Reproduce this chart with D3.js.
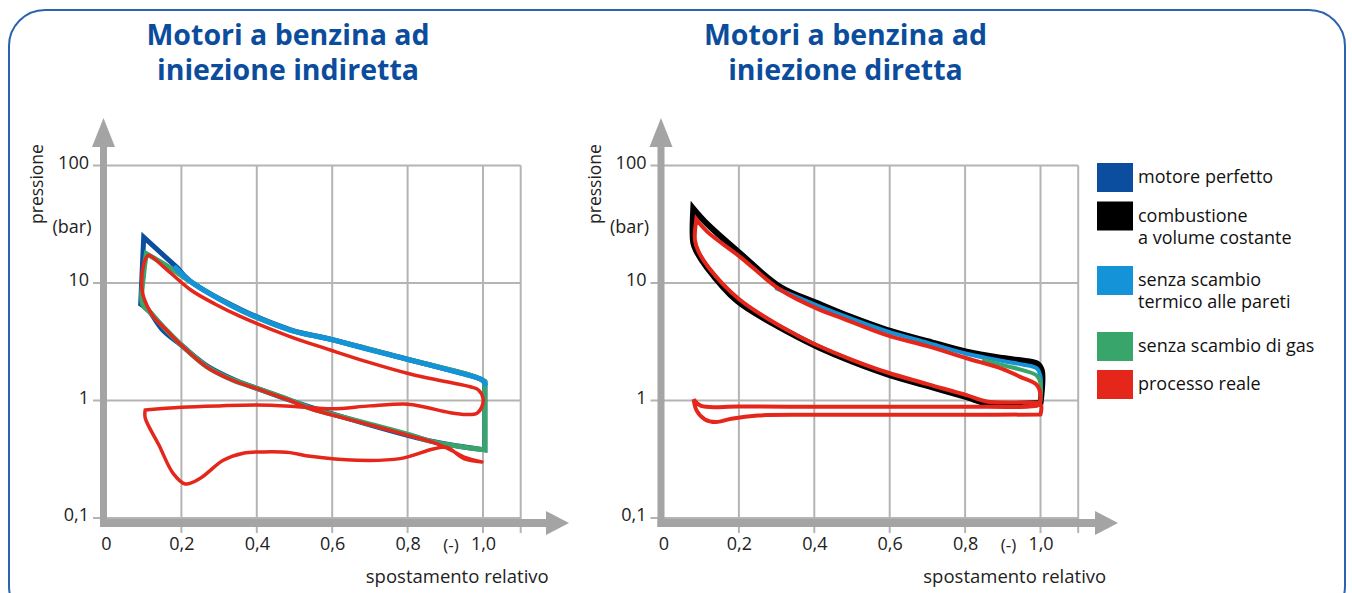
<!DOCTYPE html>
<html>
<head>
<meta charset="utf-8">
<script src="https://cdn.jsdelivr.net/npm/d3@7"></script>
<style>
body { margin: 0; background: #fff; }
svg text { font-family: "Open Sans", sans-serif; }
</style>
</head>
<body>
<div class="chart-area"></div>
<script>
// tick values and labels
var xTicks = [0, 0.2, 0.4, 0.6, 0.8, 1.0];
var xTickLabels = ["0", "0,2", "0,4", "0,6", "0,8", "1,0"];
var xGrid = [0.2, 0.4, 0.6, 0.8, 1.0, 1.1];
var yTicks = [0.1, 1, 10, 100];
var yTickLabels = ["0,1", "1", "10", "100"];

var legendLabels = [["motore perfetto"], ["combustione", "a volume costante"],
    ["senza scambio", "termico alle pareti"], ["senza scambio di gas"], ["processo reale"]];
var legendColors = ["#0b4e9f", "#000000", "#1493d9", "#38a56b", "#e4261b"];

// left panel: [spostamento relativo, pressione bar]
// repeated points keep a sharp corner in the catmull-rom curve
var leftPerfetto = [[1.005, 1.45], [1.005, 1.45], [1.005, 0.38], [1.005, 0.38], [0.87, 0.445], [0.6, 0.77],
    [0.49, 1.0], [0.4, 1.27], [0.34, 1.5], [0.27, 1.95], [0.2, 2.95], [0.15, 4.0], [0.112, 5.9],
    [0.092, 6.6], [0.092, 6.6], [0.1, 24.5], [0.1, 24.5], [0.19, 13.4], [0.19, 13.4], [0.223, 10.4],
    [0.36, 5.9], [0.49, 4.0], [0.6, 3.3], [0.81, 2.2], [0.98, 1.58], [1.005, 1.45]];
var leftGas = [[1.005, 1.45], [1.005, 1.45], [1.005, 0.38], [1.005, 0.38], [0.868, 0.445], [0.807, 0.51],
    [0.7, 0.63], [0.595, 0.77], [0.542, 0.86], [0.488, 1.01], [0.4, 1.27], [0.337, 1.49], [0.267, 1.94],
    [0.2, 2.97], [0.16, 3.98], [0.12, 5.5], [0.097, 6.6], [0.1, 12], [0.107, 17.8], [0.107, 17.8],
    [0.152, 14.6], [0.19, 12.2], [0.223, 10.3], [0.356, 5.9], [0.488, 3.98], [0.595, 3.32], [0.807, 2.21],
    [0.984, 1.57], [1.005, 1.45]];
var leftTermico = [[0.185, 13.5], [0.223, 10.4], [0.3, 7.3], [0.356, 5.9], [0.42, 4.8], [0.488, 3.98],
    [0.542, 3.6], [0.595, 3.32], [0.7, 2.7], [0.807, 2.21], [0.9, 1.85], [0.97, 1.61], [0.995, 1.52], [1.006, 1.38]];
var leftReale = [[0.997, 0.30], [0.95, 0.33], [0.91, 0.385], [0.868, 0.44], [0.807, 0.5], [0.7, 0.62],
    [0.595, 0.76], [0.542, 0.85], [0.488, 1.0], [0.4, 1.26], [0.337, 1.48], [0.267, 1.93], [0.2, 2.95],
    [0.161, 3.95], [0.125, 5.2], [0.11, 6.3], [0.097, 8.2], [0.095, 11], [0.103, 15.5], [0.113, 17.2],
    [0.152, 13.8], [0.223, 8.8], [0.29, 6.6], [0.356, 5.2], [0.488, 3.5], [0.595, 2.69], [0.7, 2.1],
    [0.807, 1.68], [0.9, 1.45], [0.966, 1.31], [0.988, 1.23], [1.0, 1.04], [0.997, 0.885], [0.984, 0.78],
    [0.958, 0.76], [0.913, 0.787], [0.842, 0.885], [0.8, 0.93], [0.7, 0.9], [0.6, 0.85], [0.5, 0.89],
    [0.4, 0.915], [0.3, 0.9], [0.2, 0.875], [0.104, 0.83], [0.104, 0.83], [0.104, 0.71], [0.14, 0.42],
    [0.178, 0.24], [0.21, 0.195], [0.25, 0.218], [0.311, 0.31], [0.364, 0.356], [0.42, 0.365], [0.488, 0.36],
    [0.542, 0.335], [0.665, 0.31], [0.78, 0.32], [0.868, 0.386], [0.904, 0.40], [0.949, 0.32], [0.997, 0.30]];

// right panel
var rightCostante = [[1.0, 0.95], [0.857, 0.95], [0.804, 1.07], [0.7, 1.33], [0.592, 1.68], [0.5, 2.15],
    [0.415, 2.8], [0.35, 3.55], [0.291, 4.5], [0.194, 7.1], [0.115, 13.6], [0.088, 18.5], [0.079, 22],
    [0.079, 43], [0.079, 43], [0.115, 32], [0.203, 17.9], [0.309, 9.3], [0.415, 6.6], [0.5, 5.1], [0.592, 4.0],
    [0.7, 3.2], [0.804, 2.6], [0.9, 2.3], [0.946, 2.2], [0.99, 2.07], [1.003, 1.82], [1.0, 0.95]];
var rightTermico = [[0.3, 9.0], [0.415, 6.3], [0.5, 4.95], [0.592, 3.9], [0.7, 3.1], [0.804, 2.5],
    [0.9, 2.17], [0.95, 2.03], [0.99, 1.88], [1.0, 1.6], [1.0, 1.2]];
var rightGas = [[0.85, 2.2], [0.9, 2.0], [0.95, 1.82], [0.99, 1.63], [1.0, 1.4], [1.0, 1.0]];
var rightReale = [[1.0, 0.76], [1.0, 0.93], [0.95, 0.96], [0.857, 0.98], [0.804, 1.11], [0.7, 1.38],
    [0.592, 1.74], [0.5, 2.22], [0.415, 2.88], [0.35, 3.65], [0.291, 4.65], [0.2, 7.3], [0.12, 13.5],
    [0.093, 18.5], [0.0835, 23], [0.087, 35], [0.087, 35], [0.115, 27.5], [0.203, 16.7], [0.309, 8.8],
    [0.415, 5.9], [0.468, 5.1], [0.592, 3.6], [0.7, 2.9], [0.804, 2.29], [0.9, 1.85], [0.946, 1.59],
    [0.99, 1.36], [1.0, 1.1], [0.995, 0.92], [0.97, 0.89], [0.8, 0.885], [0.6, 0.885], [0.4, 0.885],
    [0.2, 0.89], [0.1, 0.9], [0.08, 1.02], [0.08, 1.02], [0.088, 0.82], [0.11, 0.69], [0.139, 0.656],
    [0.18, 0.7], [0.25, 0.745], [0.4, 0.755], [0.6, 0.755], [0.8, 0.755], [1.0, 0.76]];

var svg = d3.select(".chart-area")
    .append("svg")
    .attr("width", 1352)
    .attr("height", 593);

// rounded frame
svg.append("rect")
    .attr("x", 9).attr("y", 10)
    .attr("width", 1336).attr("height", 612)
    .attr("rx", 36)
    .attr("fill", "none")
    .attr("stroke", "#2a63ae")
    .attr("stroke-width", 2);

var y = d3.scaleLog().domain([0.1, 100]).range([518, 165.5]);

function drawPanel(x0, title, series, tipX) {
    var x = d3.scaleLinear().domain([0, 1]).range([x0, x0 + 377]);
    var g = svg.append("g");

    g.selectAll(".title")
        .data(title)
        .enter().append("text")
        .attr("x", x0 + 182)
        .attr("y", function(d, i) { return 45 + i * 35; })
        .attr("text-anchor", "middle")
        .attr("font-size", 28.5)
        .attr("font-weight", "bold")
        .attr("fill", "#0b4d9c")
        .text(function(d) { return d; });

    // grid
    g.selectAll(".vgrid")
        .data(xGrid)
        .enter().append("line")
        .attr("x1", function(d) { return x(d); })
        .attr("x2", function(d) { return x(d); })
        .attr("y1", y(100))
        .attr("y2", 533)
        .attr("stroke", "#b4b4b4")
        .attr("stroke-width", 2);
    g.selectAll(".hgrid")
        .data(yTicks)
        .enter().append("line")
        .attr("x1", x0 - 13)
        .attr("x2", x(1.1))
        .attr("y1", function(d) { return y(d); })
        .attr("y2", function(d) { return y(d); })
        .attr("stroke", "#b4b4b4")
        .attr("stroke-width", 2);

    // thick axes with arrows
    g.append("rect")
        .attr("x", x0 - 6).attr("y", 146)
        .attr("width", 7).attr("height", 381)
        .attr("fill", "#a4a4a4");
    g.append("path")
        .attr("d", "M" + (x0 - 14) + ",147 L" + (x0 + 9) + ",147 L" + (x0 - 2.5) + ",118 Z")
        .attr("fill", "#a4a4a4");
    g.append("rect")
        .attr("x", x0 - 6).attr("y", 519)
        .attr("width", tipX - x0 - 16).attr("height", 8)
        .attr("fill", "#a4a4a4");
    g.append("path")
        .attr("d", "M" + (tipX - 23) + ",511 L" + (tipX - 23) + ",535 L" + tipX + ",523 Z")
        .attr("fill", "#a4a4a4");

    // tick labels through d3 axes
    var xAxis = d3.axisBottom(x)
        .tickValues(xTicks)
        .tickSize(0)
        .tickPadding(0)
        .tickFormat(function(d, i) { return xTickLabels[i]; });
    var xa = g.append("g").attr("transform", "translate(0,537)").call(xAxis);
    xa.select(".domain").remove();
    xa.selectAll("text").attr("font-size", 18).attr("fill", "#222").attr("dy", "0.71em")
        .style("font-family", "'Open Sans', sans-serif");

    var yAxis = d3.axisLeft(y)
        .tickValues(yTicks)
        .tickSize(0)
        .tickPadding(0)
        .tickFormat(function(d, i) { return yTickLabels[i]; });
    var ya = g.append("g").attr("transform", "translate(" + (x0 - 17) + ",-3)").call(yAxis);
    ya.select(".domain").remove();
    ya.selectAll("text").attr("font-size", 18).attr("fill", "#222")
        .style("font-family", "'Open Sans', sans-serif");

    g.append("text")
        .attr("x", x(0.915)).attr("y", 551)
        .attr("text-anchor", "middle")
        .attr("font-size", 17)
        .attr("fill", "#222")
        .text("(-)");
    g.append("text")
        .attr("x", x(1.1) + 28).attr("y", 583)
        .attr("text-anchor", "end")
        .attr("font-size", 18.5)
        .attr("fill", "#222")
        .text("spostamento relativo");
    g.append("text")
        .attr("transform", "translate(" + (x0 - 63) + ",184) rotate(-90)")
        .attr("text-anchor", "middle")
        .attr("font-size", 17.5)
        .attr("fill", "#222")
        .text("pressione");
    g.append("text")
        .attr("x", x0 - 34).attr("y", 233)
        .attr("text-anchor", "middle")
        .attr("font-size", 18)
        .attr("fill", "#222")
        .text("(bar)");

    var line = d3.line()
        .x(function(d) { return x(d[0]); })
        .y(function(d) { return y(d[1]); })
        .curve(d3.curveCatmullRom.alpha(0.5));

    series.forEach(function(s) {
        g.append("path")
            .attr("d", line(s.data))
            .attr("fill", "none")
            .attr("stroke", s.color)
            .attr("stroke-width", s.width)
            .attr("stroke-linejoin", "miter")
            .attr("stroke-linecap", "round");
    });
}

drawPanel(106, ["Motori a benzina ad", "iniezione indiretta"], [
    { data: leftPerfetto, color: legendColors[0], width: 5 },
    { data: leftGas, color: legendColors[3], width: 5 },
    { data: leftTermico, color: legendColors[2], width: 5 },
    { data: leftReale, color: legendColors[4], width: 3.5 }
], 569);

drawPanel(663.5, ["Motori a benzina ad", "iniezione diretta"], [
    { data: rightCostante, color: legendColors[1], width: 6 },
    { data: rightTermico, color: legendColors[2], width: 4 },
    { data: rightGas, color: legendColors[3], width: 4 },
    { data: rightReale, color: legendColors[4], width: 4 }
], 1118);

// legend
var legendTops = [163, 201.5, 266, 332, 370];
var lg = svg.append("g");
legendLabels.forEach(function(lines, i) {
    lg.append("rect")
        .attr("x", 1097).attr("y", legendTops[i])
        .attr("width", 36).attr("height", 29)
        .attr("fill", legendColors[i]);
    lg.selectAll(".l" + i)
        .data(lines)
        .enter().append("text")
        .attr("x", 1138)
        .attr("y", function(d, j) { return legendTops[i] + 20 + j * 22; })
        .attr("font-size", 18)
        .attr("fill", "#111")
        .text(function(d) { return d; });
});
</script>
</body>
</html>
